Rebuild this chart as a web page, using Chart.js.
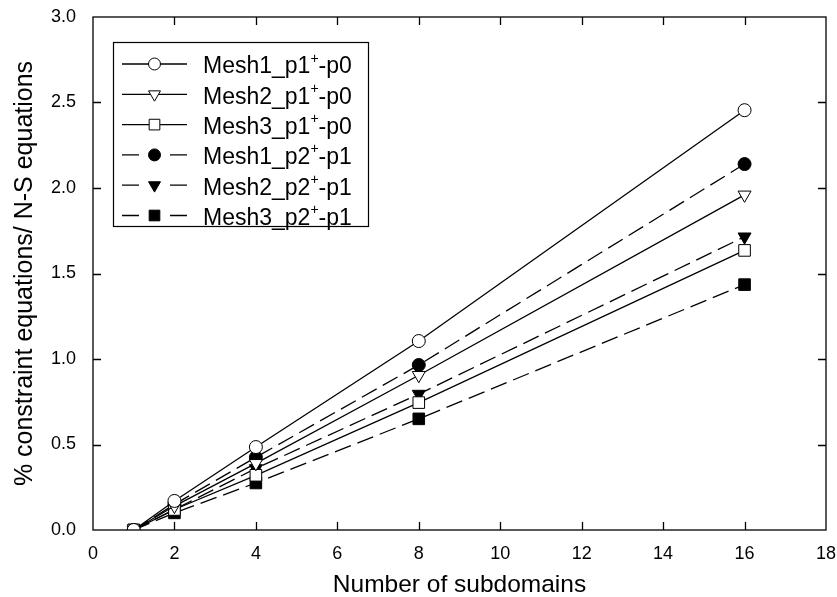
<!DOCTYPE html>
<html>
<head>
<meta charset="utf-8">
<script src="https://cdn.jsdelivr.net/npm/chart.js@4/dist/chart.umd.min.js"></script>
<style>
  html, body { margin: 0; padding: 0; background: #fff; }
  #wrap { width: 837px; height: 597px; }
</style>
</head>
<body>
<div id="wrap"><canvas id="chart" width="837" height="597"></canvas></div>
<script>
// Nombre de sous-domaines
const subdomains = [1, 2, 4, 8, 16];

// % équations de contrainte / équations N-S
const mesh1P1 = [0, 0.17, 0.485, 1.105, 2.455];
const mesh2P1 = [0, 0.14, 0.39, 0.905, 1.96];
const mesh3P1 = [0, 0.12, 0.32, 0.745, 1.635];
const mesh1P2 = [0, 0.15, 0.425, 0.965, 2.14];
const mesh2P2 = [0, 0.12, 0.36, 0.795, 1.715];
const mesh3P2 = [0, 0.10, 0.275, 0.65, 1.435];

const seriesLabels = [
  "Mesh1_p1⁺-p0",
  "Mesh2_p1⁺-p0",
  "Mesh3_p1⁺-p0",
  "Mesh1_p2⁺-p1",
  "Mesh2_p2⁺-p1",
  "Mesh3_p2⁺-p1",
];

const xTitle = "Number of subdomains";
const yTitle = "% constraint equations/ N-S equations";

const FONT = "'Liberation Sans', Arial, sans-serif";
const DASH = [17, 7];

function makeDataset(label, values, style, filled, dashed, radius, rotation) {
  return {
    label: label,
    data: subdomains.map((x, i) => ({ x: x, y: values[i] })),
    borderColor: "#000",
    backgroundColor: filled ? "#000" : "#fff",
    pointBorderColor: "#000",
    pointBackgroundColor: filled ? "#000" : "#fff",
    pointStyle: style,
    pointRadius: radius,
    pointRotation: rotation || 0,
    pointBorderWidth: 1,
    borderWidth: 1.3,
    borderDash: dashed ? DASH : [],
    tension: 0,
    fill: false,
  };
}

// Lignes pleines (p1+-p0) puis tirets (p2+-p1)
const datasets = [
  makeDataset(seriesLabels[0], mesh1P1, "circle", false, false, 6.5),
  makeDataset(seriesLabels[1], mesh2P1, "triangle", false, false, 7.5, 180),
  makeDataset(seriesLabels[2], mesh3P1, "rect", false, false, 8.2),
  makeDataset(seriesLabels[3], mesh1P2, "circle", true, true, 6.5),
  makeDataset(seriesLabels[4], mesh2P2, "triangle", true, true, 7.5, 180),
  makeDataset(seriesLabels[5], mesh3P2, "rect", true, true, 8.2),
];

// Cadre autour de la zone de tracé avec graduations vers l'intérieur
const framePlugin = {
  id: "frame",
  afterDatasetsDraw(chart) {
    const { ctx, chartArea: a, scales } = chart;
    const tick = 8;
    ctx.save();
    ctx.strokeStyle = "#000";
    ctx.lineWidth = 1.3;
    ctx.strokeRect(a.left, a.top, a.right - a.left, a.bottom - a.top);
    ctx.beginPath();
    scales.x.ticks.forEach((t) => {
      const px = Math.round(scales.x.getPixelForValue(t.value)) + 0.5;
      if (px <= a.left + 1 || px >= a.right - 1) return;
      ctx.moveTo(px, a.bottom);
      ctx.lineTo(px, a.bottom - tick);
      ctx.moveTo(px, a.top);
      ctx.lineTo(px, a.top + tick);
    });
    scales.y.ticks.forEach((t) => {
      const py = Math.round(scales.y.getPixelForValue(t.value)) + 0.5;
      if (py <= a.top + 1 || py >= a.bottom - 1) return;
      ctx.moveTo(a.left, py);
      ctx.lineTo(a.left + tick, py);
      ctx.moveTo(a.right, py);
      ctx.lineTo(a.right - tick, py);
    });
    ctx.stroke();
    ctx.restore();
  },
};

// Texte avec le "+" en exposant
function drawLabel(ctx, text, x, y, size) {
  const parts = text.split("⁺");
  ctx.font = size + "px " + FONT;
  ctx.fillText(parts[0], x, y);
  let cx = x + ctx.measureText(parts[0]).width;
  if (parts.length > 1) {
    const small = Math.round(size * 0.6);
    ctx.font = small + "px " + FONT;
    ctx.fillText("+", cx, y - size * 0.36);
    cx += ctx.measureText("+").width;
    ctx.font = size + "px " + FONT;
    ctx.fillText(parts[1], cx, y);
  }
}

// Légende dessinée à la main : segment + marqueur + libellé
const legendPlugin = {
  id: "boxLegend",
  afterDraw(chart) {
    const { ctx, chartArea: a } = chart;
    const box = { left: a.left + 20, top: a.top + 25, width: 255, height: 184 };
    const rowH = 30.3;
    const firstRow = box.top + 22;
    ctx.save();
    ctx.fillStyle = "#fff";
    ctx.fillRect(box.left, box.top, box.width, box.height);
    ctx.strokeStyle = "#000";
    ctx.lineWidth = 1.2;
    ctx.strokeRect(box.left + 0.5, box.top + 0.5, box.width, box.height);

    chart.data.datasets.forEach((ds, i) => {
      const y = firstRow + i * rowH;
      const x0 = box.left + 9;
      const x1 = box.left + 74;
      const xm = (x0 + x1) / 2;
      ctx.strokeStyle = "#000";
      ctx.lineWidth = 1.3;
      ctx.beginPath();
      if (ds.borderDash.length) {
        ctx.moveTo(x0, y);
        ctx.lineTo(x0 + 17, y);
        ctx.moveTo(x1 - 17, y);
        ctx.lineTo(x1, y);
      } else {
        ctx.moveTo(x0, y);
        ctx.lineTo(x1, y);
      }
      ctx.stroke();
      ctx.fillStyle = ds.pointBackgroundColor;
      ctx.lineWidth = 1;
      Chart.helpers.drawPoint(ctx, {
        pointStyle: ds.pointStyle,
        rotation: ds.pointRotation,
        radius: ds.pointRadius * 0.92,
        borderWidth: 1,
      }, xm, y);
      ctx.fillStyle = "#000";
      ctx.textBaseline = "middle";
      ctx.textAlign = "left";
      drawLabel(ctx, ds.label, box.left + 90, y + 3, 23);
    });
    ctx.restore();
  },
};

// Pas de marge supplémentaire pour le débordement des libellés
function resetOverflow(scale) {
  scale.paddingTop = 0;
  scale.paddingBottom = 0;
  scale.paddingLeft = 0;
  scale.paddingRight = 0;
}

const ctx = document.getElementById("chart").getContext("2d");

new Chart(ctx, {
  type: "line",
  data: { datasets: datasets },
  options: {
    responsive: false,
    animation: false,
    layout: { padding: { top: 17, right: 11, left: 0, bottom: 0 } },
    plugins: {
      legend: { display: false },
      tooltip: { enabled: false },
    },
    scales: {
      x: {
        type: "linear",
        min: 0,
        max: 18,
        ticks: {
          stepSize: 2,
          color: "#000",
          padding: 13,
          font: { family: FONT, size: 18 },
        },
        grid: { display: false, drawTicks: false },
        border: { display: false },
        title: {
          display: true,
          text: xTitle,
          color: "#000",
          font: { family: FONT, size: 24.5 },
          padding: { top: 0, bottom: -3 },
        },
        afterFit(scale) {
          scale.height = 67;
          resetOverflow(scale);
        },
      },
      y: {
        min: 0,
        max: 3,
        ticks: {
          stepSize: 0.5,
          color: "#000",
          padding: 17,
          font: { family: FONT, size: 18 },
          callback: (v) => Number(v).toFixed(1),
        },
        grid: { display: false, drawTicks: false },
        border: { display: false },
        title: {
          display: true,
          text: yTitle,
          color: "#000",
          font: { family: FONT, size: 25 },
          padding: { top: 10, bottom: 0 },
        },
        afterFit(scale) {
          scale.width = 93;
          resetOverflow(scale);
        },
      },
    },
  },
  plugins: [framePlugin, legendPlugin],
});
</script>
</body>
</html>
